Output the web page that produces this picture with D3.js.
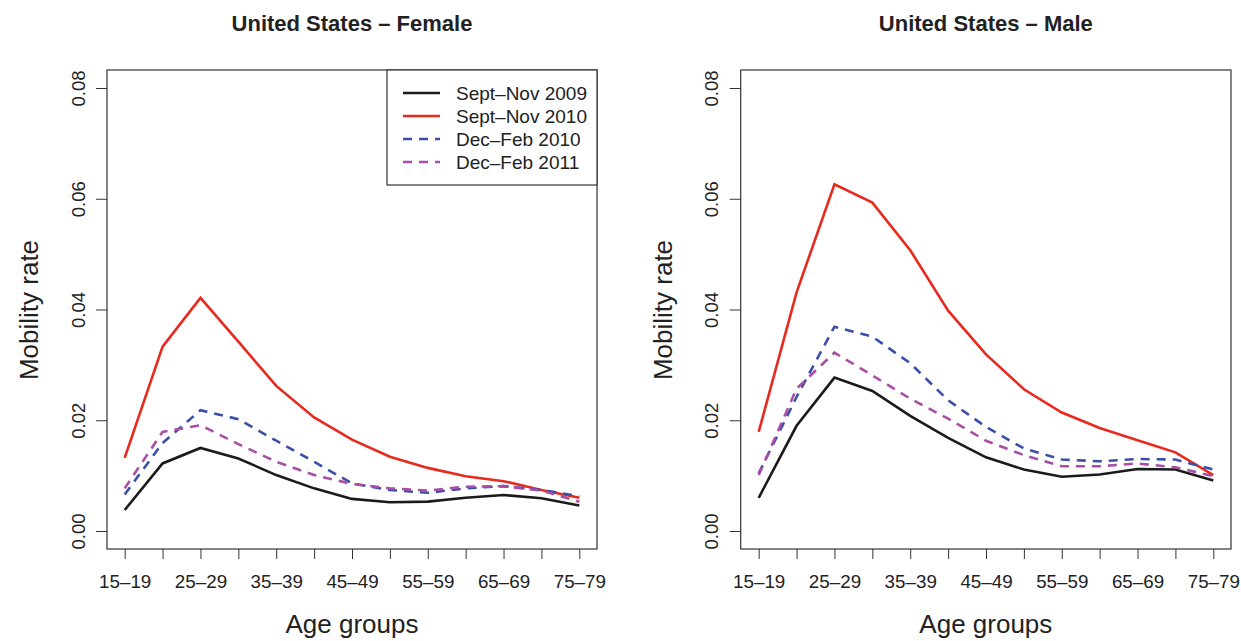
<!DOCTYPE html>
<html>
<head>
<meta charset="utf-8">
<script src="https://cdn.jsdelivr.net/npm/d3@7"></script>
<style>
  body { margin: 0; background: #fff; }
  svg { font-family: "Liberation Sans", Arial, sans-serif; }
</style>
</head>
<body>
<svg id="chart" width="1241" height="641"></svg>
<script>
const ageGroups = ["15–19","20–24","25–29","30–34","35–39","40–44","45–49","50–54","55–59","60–64","65–69","70–74","75–79"];
const yTicks = [0, 0.02, 0.04, 0.06, 0.08];
const seriesNames = ["Sept–Nov 2009", "Sept–Nov 2010", "Dec–Feb 2010", "Dec–Feb 2011"];
const panelTitles = ["United States – Female", "United States – Male"];

// Female
const femaleSeptNov2009 = [0.0038,0.0122,0.0150,0.0131,0.0101,0.0077,0.0058,0.0052,0.0053,0.0060,0.0065,0.0059,0.0046];
const femaleSeptNov2010 = [0.0132,0.0333,0.0421,0.0342,0.0262,0.0205,0.0165,0.0134,0.0114,0.0099,0.0090,0.0074,0.0060];
const femaleDecFeb2010  = [0.0066,0.0159,0.0218,0.0202,0.0163,0.0125,0.0086,0.0074,0.0069,0.0077,0.0081,0.0074,0.0063];
const femaleDecFeb2011  = [0.0077,0.0179,0.0191,0.0157,0.0125,0.0101,0.0085,0.0077,0.0073,0.0080,0.0081,0.0073,0.0053];

// Male
const maleSeptNov2009 = [0.0060,0.0190,0.0277,0.0253,0.0208,0.0168,0.0133,0.0111,0.0098,0.0102,0.0112,0.0111,0.0091];
const maleSeptNov2010 = [0.0179,0.0431,0.0626,0.0593,0.0507,0.0398,0.0319,0.0256,0.0214,0.0186,0.0164,0.0142,0.0101];
const maleDecFeb2010  = [0.0104,0.0242,0.0369,0.0351,0.0303,0.0236,0.0188,0.0149,0.0129,0.0126,0.0130,0.0129,0.0111];
const maleDecFeb2011  = [0.0101,0.0257,0.0322,0.0281,0.0239,0.0203,0.0163,0.0137,0.0117,0.0117,0.0122,0.0115,0.0099];

const colors = ["#1b1b1b", "#e8291e", "#3c4fa8", "#a84ea6"];
const dashes = [null, null, "9,7", "9,7"];

const panels = [
  { title: panelTitles[0], series: [femaleSeptNov2009, femaleSeptNov2010, femaleDecFeb2010, femaleDecFeb2011],
    box: [107, 597], xr: [124.7, 579.3], legend: true },
  { title: panelTitles[1], series: [maleSeptNov2009, maleSeptNov2010, maleDecFeb2010, maleDecFeb2011],
    box: [740.7, 1231], xr: [758.7, 1213.3], legend: false }
];

const svg = d3.select("#chart");
const boxTop = 70, boxBottom = 549;
const y = d3.scaleLinear().domain([0, 0.08]).range([531, 88]);
const txt = "#222";

panels.forEach(p => {
  const g = svg.append("g");
  const x = d3.scalePoint().domain(ageGroups).range(p.xr);
  const cx = (p.box[0] + p.box[1]) / 2;

  // Title
  g.append("text").attr("x", cx).attr("y", 31).attr("text-anchor", "middle")
    .attr("font-weight", "bold").attr("font-size", 22).attr("fill", txt).text(p.title);

  // x axis
  const xa = g.append("g").attr("transform", `translate(0,${boxBottom})`)
    .call(d3.axisBottom(x).tickSize(10).tickPadding(16)
      .tickFormat((d, i) => i % 2 === 0 ? d : ""));
  xa.select(".domain").remove();
  xa.selectAll("line").attr("stroke", "#333").attr("stroke-width", 1);
  xa.selectAll("text").attr("font-size", 18.8).attr("fill", txt).attr("font-family", "Liberation Sans, Arial, sans-serif");

  // y axis
  const ya = g.append("g").attr("transform", `translate(${p.box[0]},0)`)
    .call(d3.axisLeft(y).tickValues(yTicks).tickSize(11).tickFormat(d3.format(".2f")));
  ya.select(".domain").remove();
  ya.selectAll("line").attr("stroke", "#333").attr("stroke-width", 1);
  ya.selectAll("text").attr("font-size", 18.5).attr("fill", txt)
    .attr("font-family", "Liberation Sans, Arial, sans-serif")
    .attr("text-anchor", "middle").attr("x", 0).attr("dy", 0)
    .attr("transform", "translate(-29,0) rotate(-90)").attr("y", 0).attr("dominant-baseline", "central");

  // axis titles
  g.append("text").attr("x", cx).attr("y", 633).attr("text-anchor", "middle")
    .attr("font-size", 26).attr("fill", txt).text("Age groups");
  g.append("text").attr("transform", `translate(${p.box[0] - 69},310) rotate(-90)`)
    .attr("text-anchor", "middle").attr("font-size", 26).attr("fill", txt).text("Mobility rate");

  // lines
  const line = d3.line().x((d, i) => x(ageGroups[i])).y(d => y(d));
  p.series.forEach((s, k) => {
    g.append("path").datum(s).attr("d", line).attr("fill", "none")
      .attr("stroke", colors[k]).attr("stroke-width", 2.6)
      .attr("stroke-dasharray", dashes[k]).attr("stroke-linejoin", "miter");
  });

  // box
  g.append("rect").attr("x", p.box[0]).attr("y", boxTop)
    .attr("width", p.box[1] - p.box[0]).attr("height", boxBottom - boxTop)
    .attr("fill", "none").attr("stroke", "#333").attr("stroke-width", 1.2);

  // legend
  if (p.legend) {
    const lg = g.append("g");
    lg.append("rect").attr("x", 387).attr("y", boxTop).attr("width", p.box[1] - 387).attr("height", 115)
      .attr("fill", "#fff").attr("stroke", "#333").attr("stroke-width", 1.2);
    seriesNames.forEach((n, k) => {
      const ry = 93 + k * 23;
      lg.append("line").attr("x1", 403).attr("x2", 440).attr("y1", ry).attr("y2", ry)
        .attr("stroke", colors[k]).attr("stroke-width", 2.6).attr("stroke-dasharray", dashes[k]);
      lg.append("text").attr("x", 456).attr("y", ry).attr("dominant-baseline", "central")
        .attr("font-size", 19).attr("fill", txt).text(n);
    });
  }
});
</script>
</body>
</html>
